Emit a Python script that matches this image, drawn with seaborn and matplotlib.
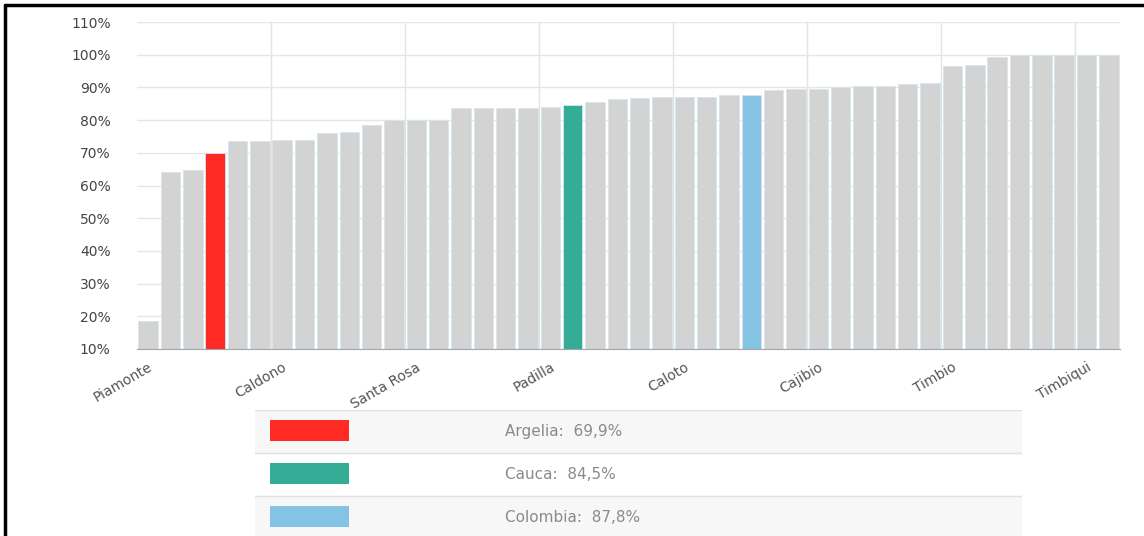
import numpy as np
import pandas as pd
import matplotlib
matplotlib.use("Agg")
import matplotlib.pyplot as plt
from matplotlib.patches import Rectangle
import seaborn as sns

# values, sorted ascending (percent)
values = [18.7, 64.1, 64.7, 69.9, 73.5, 73.5, 73.8, 73.8, 76.1, 76.4, 78.5,
          79.9, 80.0, 80.0, 83.6, 83.6, 83.6, 83.6, 83.9, 84.5, 85.4, 86.5,
          86.8, 87.0, 87.0, 87.0, 87.6, 87.8, 89.2, 89.4, 89.4, 90.0, 90.3,
          90.3, 91.0, 91.4, 96.4, 96.8, 99.2, 100.0, 100.0, 100.0, 100.0, 100.0]

# named bars (position -> label)
tick_pos = [0, 6, 12, 18, 24, 30, 36, 42]
tick_labels = ["Piamonte", "Caldono", "Santa Rosa", "Padilla", "Caloto",
               "Cajibio", "Timbio", "Timbiqui"]

highlight_pos = [3, 19, 27]
highlight_names = ["Argelia", "Cauca", "Colombia"]
highlight_text = ["69,9%", "84,5%", "87,8%"]
highlight_colors = ["#ff2a24", "#35ad96", "#85c3e5"]

base_color = "#d3d3d3"

df = pd.DataFrame({"pos": range(len(values)), "value": values})
colors = [base_color] * len(values)
for p, c in zip(highlight_pos, highlight_colors):
    colors[p] = c

sns.set_style("white")
fig = plt.figure(figsize=(11.44, 5.36), dpi=100)
ax = fig.add_axes([137 / 1144, 1 - 349 / 536, (1120 - 137) / 1144, (349 - 22) / 536])

sns.barplot(data=df, x="pos", y="value", hue="pos", palette=colors,
            legend=False, width=0.87, edgecolor="#d6e6ef", linewidth=0.6,
            saturation=1, ax=ax)

ax.set_ylim(10, 110)
ax.set_xlim(-0.5, len(values) - 0.5)
ax.set_yticks(range(10, 111, 10))
ax.set_yticklabels([f"{v}%" for v in range(10, 111, 10)],
                   fontsize=10, color="#444444")
ax.set_xticks(tick_pos)
ax.set_xticklabels(tick_labels, rotation=30, ha="right", rotation_mode="anchor",
                   fontsize=10, color="#555555")
ax.set_xlabel("")
ax.set_ylabel("")

ax.set_axisbelow(True)
ax.yaxis.grid(True, color="#e6e6e6", linewidth=1)
for p in range(6, len(values), 6):
    ax.axvline(p - 0.5, color="#e3e3e3", linewidth=1, zorder=0)

for s in ["top", "right", "left"]:
    ax.spines[s].set_visible(False)
ax.spines["bottom"].set_color("#a0a6ad")
ax.tick_params(axis="x", length=4, color="#a0a6ad", pad=4)
ax.tick_params(axis="y", length=0, pad=19)

# legend table below the chart
lax = fig.add_axes([255 / 1144, 1 - 539 / 536, (1022 - 255) / 1144, 129 / 536])
lax.set_xlim(0, 767)
lax.set_ylim(129, 0)
lax.axis("off")
for i, (name, txt, col) in enumerate(zip(highlight_names, highlight_text, highlight_colors)):
    y0 = i * 43
    bg = "#f7f7f7" if i != 1 else "white"
    lax.add_patch(Rectangle((0, y0), 767, 43, facecolor=bg, edgecolor="none"))
    lax.plot([0, 767], [y0, y0], color="#e0e0e0", linewidth=1)
    lax.add_patch(Rectangle((15, y0 + 10), 79, 21, facecolor=col, edgecolor="none"))
    lax.text(250, y0 + 21, f"{name}:  {txt}", fontsize=11, color="#8a8a8a",
             va="center", ha="left")

# frame lines on the left and top of the image
fig.add_artist(plt.Line2D([5 / 1144, 5 / 1144], [0, 1 - 5 / 536], color="black", linewidth=2.5))
fig.add_artist(plt.Line2D([5 / 1144, 1], [1 - 5 / 536, 1 - 5 / 536], color="black", linewidth=2.5))

fig.savefig("out.png", dpi=100)
plt.close(fig)
